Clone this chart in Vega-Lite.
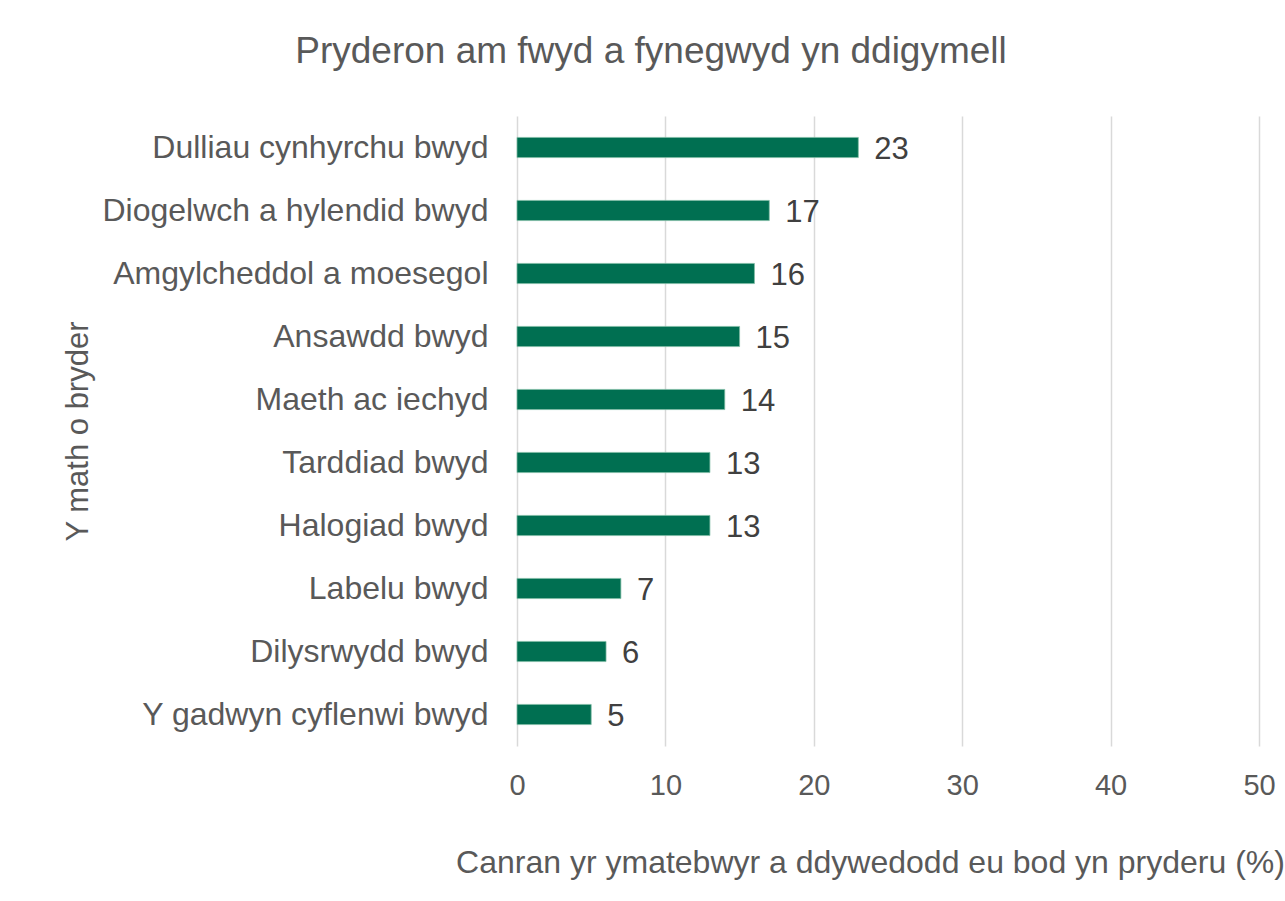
{
  "$schema": "https://vega.github.io/schema/vega-lite/v6.json",
  "width": 742,
  "height": 630,
  "autosize": {"type": "none"},
  "padding": {"left": 517, "top": 116, "right": 26, "bottom": 155},
  "background": "white",
  "title": {
    "text": "Pryderon am fwyd a fynegwyd yn ddigymell",
    "font": "Liberation Sans",
    "fontSize": 37,
    "fontWeight": "normal",
    "color": "#595959",
    "anchor": "middle",
    "frame": "group",
    "dx": -237,
    "baseline": "alphabetic",
    "offset": 16
  },
  "data": {
    "values": [
      {"category": "Dulliau cynhyrchu bwyd", "value": 23},
      {"category": "Diogelwch a hylendid bwyd", "value": 17},
      {"category": "Amgylcheddol a moesegol", "value": 16},
      {"category": "Ansawdd bwyd", "value": 15},
      {"category": "Maeth ac iechyd", "value": 14},
      {"category": "Tarddiad bwyd", "value": 13},
      {"category": "Halogiad bwyd", "value": 13},
      {"category": "Labelu bwyd", "value": 7},
      {"category": "Dilysrwydd bwyd", "value": 6},
      {"category": "Y gadwyn cyflenwi bwyd", "value": 5}
    ]
  },
  "encoding": {
    "y": {
      "field": "category",
      "type": "nominal",
      "sort": null,
      "scale": {"paddingInner": 0.68, "paddingOuter": 0.34},
      "axis": {
        "title": "Y math o bryder",
        "titleFont": "Liberation Sans",
        "titleFontSize": 31,
        "titleFontWeight": "normal",
        "titleColor": "#595959",
        "titleX": -430,
        "titleY": 315,
        "titleAngle": -90,
        "titleBaseline": "alphabetic",
        "titleAlign": "center",
        "labelFont": "Liberation Sans",
        "labelFontSize": 32,
        "labelColor": "#595959",
        "labelPadding": 29,
        "labelLimit": 600,
        "ticks": false,
        "tickSize": 0,
        "domain": false,
        "grid": false
      }
    },
    "x": {
      "field": "value",
      "type": "quantitative",
      "scale": {"domain": [0, 50], "nice": false},
      "axis": {
        "values": [0, 10, 20, 30, 40, 50],
        "title": "Canran yr ymatebwyr a ddywedodd eu bod yn pryderu (%)",
        "titleFont": "Liberation Sans",
        "titleFontSize": 32,
        "titleFontWeight": "normal",
        "titleColor": "#595959",
        "titleX": 353,
        "titleY": 126,
        "titleBaseline": "alphabetic",
        "titleAlign": "center",
        "labelFont": "Liberation Sans",
        "labelFontSize": 29,
        "labelColor": "#595959",
        "labelPadding": 25,
        "labelFlush": false,
        "ticks": false,
        "tickSize": 0,
        "domain": false,
        "grid": true,
        "gridColor": "#d9d9d9",
        "gridWidth": 1.5
      }
    }
  },
  "layer": [
    {
      "mark": {"type": "bar", "color": "#006f51", "stroke": "#7dbba3", "strokeWidth": 0.75}
    },
    {
      "mark": {
        "type": "text",
        "align": "left",
        "baseline": "middle",
        "dx": 16,
        "dy": 2,
        "font": "Liberation Sans",
        "fontSize": 31,
        "color": "#404040"
      },
      "encoding": {"text": {"field": "value", "type": "quantitative"}}
    }
  ],
  "config": {"view": {"stroke": null}}
}
